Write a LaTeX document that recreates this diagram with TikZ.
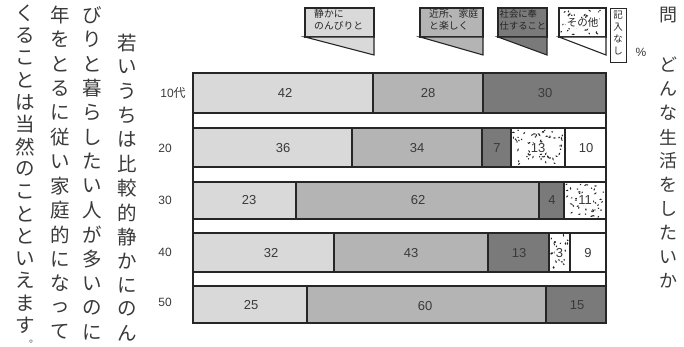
\documentclass[tikz,border=0pt]{standalone}
\usepackage{fontspec}
\setmainfont{Liberation Sans}
\newfontfamily\jp{Noto Sans CJK JP}
\definecolor{cA}{HTML}{D9D9D9}
\definecolor{cB}{HTML}{B4B4B4}
\definecolor{cC}{HTML}{7A7A7A}
\definecolor{ink}{HTML}{262626}
\definecolor{txt}{HTML}{3A3A3A}
\newcommand{\myspeck}[5]{%
  \foreach \k in {1,...,#5}{%
    \pgfmathsetmacro\px{#1+2.2+rnd*(#3-#1-4.4)}%
    \pgfmathsetmacro\py{#2+2.2+rnd*(#4-#2-4.4)}%
    \pgfmathsetmacro\pr{0.8+rnd*1.0}%
    \pgfmathsetmacro\pa{rnd*180}%
    \fill[ink, rotate around={\pa:(\px,\py)}] (\px,\py) ellipse (\pr pt and 0.7pt);
  }}
\begin{document}
\begin{tikzpicture}[x=1pt,y=-1pt,
  seg/.style={draw=ink, line width=1.1pt},
  num/.style={font=\fontsize{13}{13}\selectfont, text=txt, inner sep=0pt},
  axl/.style={font=\fontsize{12}{12}\selectfont, text=txt, inner sep=0pt},
  jtxt/.style={font=\jp\fontsize{19.5}{20}\selectfont, text=txt, inner sep=0pt},
  rtxt/.style={font=\jp\fontsize{18}{18}\selectfont, text=txt, inner sep=0pt},
  leg/.style={font=\jp\fontsize{9.8}{12}\selectfont, text=ink, inner sep=0pt, align=left, anchor=north west}
]
\useasboundingbox (0,0) rectangle (684,347);
\pgfmathsetseed{11}

% ---------- legend ----------
\filldraw[seg, fill=cA] (305,8) rectangle (374,37);
\filldraw[seg, fill=cA] (305,37) -- (374,37) -- (374,55) -- cycle;
\node[leg] (l1) at (314,9) {静かに\\のんびりと};

\filldraw[seg, fill=cB] (420,8) rectangle (483,37);
\filldraw[seg, fill=cB] (420,37) -- (483,37) -- (483,55) -- cycle;
\node[leg] (l2) at (429,9) {近所、家庭\\と楽しく};

\filldraw[seg, fill=cC] (498,8) rectangle (547,37);
\filldraw[seg, fill=cC] (498,37) -- (547,37) -- (547,55) -- cycle;
\node[leg, font=\jp\fontsize{9.3}{12}\selectfont] (l3) at (499.5,9) {社会に奉\\仕すること};

\filldraw[seg, fill=white] (559,8) rectangle (606,37);
\myspeck{559}{8}{606}{37}{40}
\filldraw[seg, fill=white] (559,37) -- (606,37) -- (606,55) -- cycle;
\node[leg, anchor=center, fill=white, inner sep=0.6pt, font=\jp\fontsize{10.5}{10}\selectfont] (l4) at (582.5,23) {その他};

\filldraw[seg, fill=white, line width=0.9pt] (610,8) rectangle (626,62);
\foreach \ch [count=\i from 0] in {記,入,な,し}
  \node[font=\jp\fontsize{9.5}{9}\selectfont, text=ink, inner sep=0pt] (l5\i) at (618,{15+\i*12}) {\ch};

\node[font=\fontsize{12}{12}\selectfont, text=txt] (pct) at (641,52) {\%};

% ---------- frame ----------
\draw[seg] (193,73) -- (193,323);
\draw[seg] (606,73) -- (606,323);

% ---------- row 1 : 10代 ----------
\filldraw[seg, fill=cA] (193,73) rectangle (373,113);
\filldraw[seg, fill=cB] (373,73) rectangle (483,113);
\filldraw[seg, fill=cC] (483,73) rectangle (606,113);
\node[num] (r1a) at (285,93) {42};
\node[num] (r1b) at (428,93) {28};
\node[num] (r1c) at (545,93) {30};

% ---------- row 2 ----------
\filldraw[seg, fill=cA] (193,128) rectangle (352,167);
\filldraw[seg, fill=cB] (352,128) rectangle (482,167);
\filldraw[seg, fill=cC] (482,128) rectangle (511,167);
\filldraw[seg, fill=white] (511,128) rectangle (565,167);
\myspeck{511}{128}{565}{167}{62}
\filldraw[seg, fill=white] (565,128) rectangle (606,167);
\node[num] (r2a) at (283,148) {36};
\node[num] (r2b) at (417,148) {34};
\node[num] (r2c) at (497,148) {7};
\node[num, fill=white, inner sep=0.8pt] (r2d) at (538,148) {13};
\node[num] (r2e) at (586,148) {10};

% ---------- row 3 ----------
\filldraw[seg, fill=cA] (193,182) rectangle (296,219);
\filldraw[seg, fill=cB] (296,182) rectangle (539,219);
\filldraw[seg, fill=cC] (539,182) rectangle (564,219);
\filldraw[seg, fill=white] (564,182) rectangle (606,219);
\myspeck{564}{182}{606}{219}{46}
\node[num] (r3a) at (249,200) {23};
\node[num] (r3b) at (418,200) {62};
\node[num] (r3c) at (552,200) {4};
\node[num, fill=white, inner sep=0.8pt] (r3d) at (585,200) {11};

% ---------- row 4 ----------
\filldraw[seg, fill=cA] (193,233) rectangle (334,272);
\filldraw[seg, fill=cB] (334,233) rectangle (488,272);
\filldraw[seg, fill=cC] (488,233) rectangle (549,272);
\filldraw[seg, fill=white] (549,233) rectangle (570,272);
\myspeck{549}{233}{570}{272}{24}
\filldraw[seg, fill=white] (570,233) rectangle (606,272);
\node[num] (r4a) at (271,253) {32};
\node[num] (r4b) at (411,253) {43};
\node[num] (r4c) at (519,253) {13};
\node[num, fill=white, inner sep=0.8pt] (r4d) at (559.5,253) {3};
\node[num] (r4e) at (588,253) {9};

% ---------- row 5 ----------
\filldraw[seg, fill=cA] (193,286) rectangle (307,323);
\filldraw[seg, fill=cB] (307,286) rectangle (546,323);
\filldraw[seg, fill=cC] (546,286) rectangle (606,323);
\node[num] (r5a) at (251,305) {25};
\node[num] (r5b) at (425,306) {60};
\node[num] (r5c) at (577,305) {15};

% ---------- axis labels ----------
\node[axl] (y1) at (173,93) {10{\jp 代}};
\node[axl] (y2) at (165,148) {20};
\node[axl] (y3) at (165,200) {30};
\node[axl] (y4) at (165,252) {40};
\node[axl] (y5) at (165,302) {50};

% ---------- right vertical title ----------
\node[rtxt] (q) at (668,15) {問};
\foreach \ch [count=\i from 0] in {ど,ん,な,生,活,を,し,た,い,か}
  \node[rtxt] (t\i) at (668,{65+\i*24}) {\ch};

% ---------- left vertical text ----------
\foreach \ch [count=\i from 0] in {若,い,う,ち,は,比,較,的,静,か,に,の,ん}
  \node[jtxt] (a\i) at (127,{43+\i*24.2}) {\ch};
\foreach \ch [count=\i from 0] in {び,り,と,暮,ら,し,た,い,人,が,多,い,の,に}
  \node[jtxt] (b\i) at (92,{15+\i*24.4}) {\ch};
\foreach \ch [count=\i from 0] in {年,を,と,る,に,従,い,家,庭,的,に,な,っ,て}
  \node[jtxt] (c\i) at (60,{15+\i*24.4}) {\ch};
\foreach \ch [count=\i from 0] in {く,る,こ,と,は,当,然,の,こ,と,と,い,え,ま,す}
  \node[jtxt] (d\i) at (25,{13+\i*22.3}) {\ch};
\node[font=\jp\fontsize{10}{10}\selectfont, text=txt, inner sep=0pt] (dend) at (34,341.5) {。};
\end{tikzpicture}
\end{document}
